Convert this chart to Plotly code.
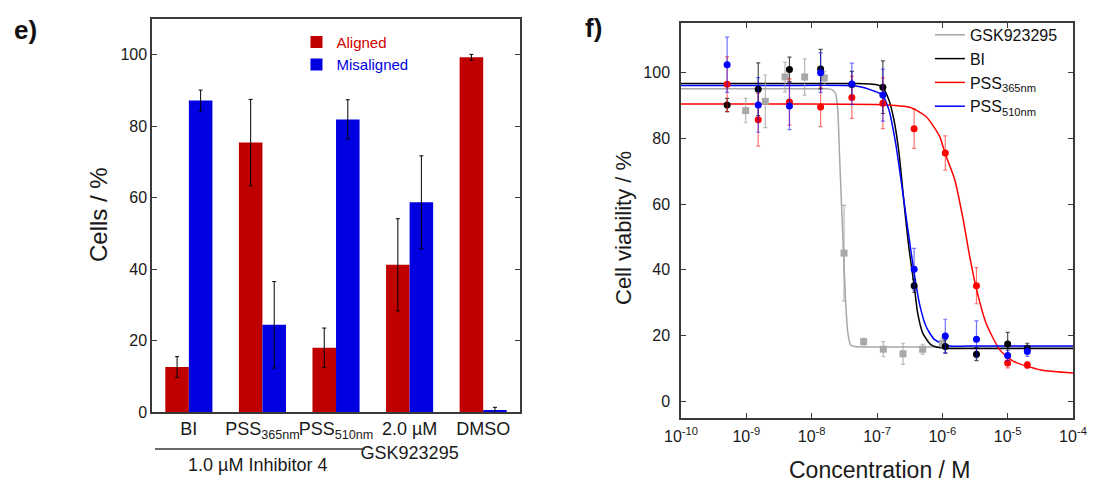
import plotly.graph_objects as go

FONT = "Arial, Liberation Sans, sans-serif"

# ---------------- panel e) data ----------------
categories = ["BI", "PSS<sub>365nm</sub>", "PSS<sub>510nm</sub>", "2.0 µM<br>GSK923295", "DMSO"]
aligned = [12.6, 75.4, 18.0, 41.2, 99.3]
aligned_err = [2.9, 12.1, 5.5, 12.9, 0.8]
misaligned = [87.2, 24.4, 81.9, 58.7, 0.5]
misaligned_err = [2.9, 12.1, 5.5, 13.0, 0.8]

# ---------------- panel f) data ----------------
conc_inhib = [5.08e-10, 1.52e-9, 4.57e-9, 1.37e-8, 4.12e-8, 1.23e-7, 3.7e-7, 1.11e-6, 3.33e-6, 1e-5, 2e-5]
via_bi = [90.1, 94.9, 100.9, 101.0, 96.3, 95.5, 35.2, 16.7, 14.4, 17.5, 16.2]
err_bi = [2.0, 8.0, 3.7, 6.0, 4.0, 8.0, 2.0, 2.0, 2.0, 3.5, 1.5]
via_365 = [96.4, 85.6, 91.0, 89.5, 92.4, 90.6, 82.9, 75.5, 35.2, 11.7, 11.1]
err_365 = [8.3, 8.0, 7.0, 6.0, 6.4, 7.7, 6.0, 5.2, 5.5, 1.5, 1.0]
via_510 = [102.3, 90.1, 89.8, 99.9, 96.5, 93.1, 40.2, 19.9, 18.9, 14.0, 15.2]
err_510 = [8.4, 8.3, 7.2, 6.0, 6.3, 7.9, 6.3, 5.1, 5.6, 1.5, 1.5]

conc_gsk = [9.77e-10, 1.95e-9, 3.91e-9, 7.81e-9, 1.56e-8, 3.13e-8, 6.25e-8, 1.25e-7, 2.5e-7, 5e-7, 1e-6]
via_gsk = [88.4, 91.2, 98.6, 98.6, 98.3, 45.1, 18.2, 15.9, 14.5, 15.9, 17.7]
err_gsk = [3.7, 8.0, 4.5, 5.5, 2.0, 14.5, 1.0, 2.3, 3.2, 1.5, 1.5]

# fitted curves (log10 concentration, viability)
fit_gsk_logc = [-10, -8.5, -7.8, -7.705, -7.637, -7.601, -7.575, -7.544, -7.513, -7.482, -7.446, -7.404, -7.342, -6.5, -4]
fit_gsk_via = [95.0, 95.0, 95.0, 94.9, 93.7, 88.7, 75.5, 60.3, 45.3, 30.9, 20.8, 17.2, 16.7, 16.6, 16.6]
fit_bi_logc = [-10, -8.5, -7.3, -7.026, -6.922, -6.819, -6.741, -6.663, -6.611, -6.560, -6.508, -6.430, -6.378, -6.300, -6.171, -5.990, -5.5, -4]
fit_bi_via = [96.6, 96.6, 96.6, 96.3, 95.6, 91.7, 85.6, 75.5, 65.3, 55.2, 46.1, 35.0, 26.9, 20.8, 17.2, 16.2, 16.1, 16.1]
fit_365_logc = [-10, -8.5, -7.5, -7.0, -6.5, -6.25, -6.04, -5.96, -5.81, -5.68, -5.59, -5.49, -5.33, -5.12, -4.91, -4.49, -4.0]
fit_365_via = [90.4, 90.4, 90.3, 90.2, 89.4, 86.6, 80.5, 75.5, 67.4, 55.2, 45.0, 35.2, 23.8, 15.7, 12.2, 9.6, 8.7]
fit_510_logc = [-10, -8.5, -7.3, -7.026, -6.922, -6.819, -6.715, -6.611, -6.534, -6.440, -6.352, -6.249, -6.119, -5.886, -5.5, -4]
fit_510_via = [96.0, 96.0, 95.8, 94.2, 93.2, 88.7, 78.5, 64.3, 53.2, 40.2, 29.9, 22.8, 18.8, 16.9, 16.9, 16.9]

RED_BAR = "#c00000"
BLUE_BAR = "#0000e0"

fig = go.Figure()

# ---- bars ----
fig.add_trace(go.Bar(
    x=categories, y=aligned, name='<span style="color:#d00000">Aligned</span>',
    marker=dict(color=RED_BAR, line=dict(width=0)),
    error_y=dict(type="data", array=aligned_err, color="black", thickness=1, width=2),
    xaxis="x", yaxis="y", legend="legend"))
fig.add_trace(go.Bar(
    x=categories, y=misaligned, name='<span style="color:#0000e0">Misaligned</span>',
    marker=dict(color=BLUE_BAR, line=dict(width=0)),
    error_y=dict(type="data", array=misaligned_err, color="black", thickness=1, width=2),
    xaxis="x", yaxis="y", legend="legend"))

# ---- curves + points ----
series = [
    ("GSK923295", conc_gsk, via_gsk, err_gsk, fit_gsk_logc, fit_gsk_via, "#a8a8a8", "rgba(160,160,160,0.75)", "square"),
    ("BI", conc_inhib, via_bi, err_bi, fit_bi_logc, fit_bi_via, "#000000", "rgba(0,0,0,0.7)", "circle"),
    ("PSS<sub>365nm</sub>", conc_inhib, via_365, err_365, fit_365_logc, fit_365_via, "#ff0000", "rgba(255,0,0,0.55)", "circle"),
    ("PSS<sub>510nm</sub>", conc_inhib, via_510, err_510, fit_510_logc, fit_510_via, "#0000ff", "rgba(0,0,255,0.55)", "circle"),
]
for name, cx, cy, ce, flc, fv, col, ecol, sym in series:
    fig.add_trace(go.Scatter(
        x=[10 ** v for v in flc], y=fv, mode="lines", name=name,
        line=dict(color=col, width=1.5, shape="spline", smoothing=0.6),
        xaxis="x2", yaxis="y2", legend="legend2"))
for name, cx, cy, ce, flc, fv, col, ecol, sym in series:
    fig.add_trace(go.Scatter(
        x=cx, y=cy, mode="markers", name=name, showlegend=False,
        marker=dict(color=col, size=7, symbol=sym, line=dict(width=0)),
        error_y=dict(type="data", array=ce, color=ecol, thickness=1.2, width=2),
        xaxis="x2", yaxis="y2"))

axis_line = dict(showline=True, linecolor="#3a3a3a", linewidth=1.5,
                 showgrid=False, zeroline=False, automargin=False)

fig.update_layout(
    width=1094, height=484,
    margin=dict(l=0, r=0, t=0, b=0),
    paper_bgcolor="white", plot_bgcolor="white",
    font=dict(family=FONT, color="#1a1a1a"),
    barmode="group", bargap=0.36, bargroupgap=0,
    xaxis=dict(domain=[0.139, 0.4753], range=[-0.5, 4.5], type="category",
               ticks="", tickangle=0, tickfont=dict(size=18), anchor="y", mirror=True, **axis_line),
    yaxis=dict(domain=[0.1488, 0.9607], range=[0, 110], tickvals=[0, 20, 40, 60, 80, 100],
               ticks="inside", ticklen=5, tickcolor="#3a3a3a", tickfont=dict(size=16),
               anchor="x", mirror="ticks", **axis_line),
    xaxis2=dict(domain=[0.6225, 0.9808], type="log", range=[-10, -4],
                tickvals=[1e-10, 1e-9, 1e-8, 1e-7, 1e-6, 1e-5, 1e-4],
                ticktext=["10<sup>-10</sup>", "10<sup>-9</sup>", "10<sup>-8</sup>", "10<sup>-7</sup>",
                          "10<sup>-6</sup>", "10<sup>-5</sup>", "10<sup>-4</sup>"],
                ticks="inside", ticklen=5, tickcolor="#3a3a3a", tickfont=dict(size=16), tickangle=0,
                ticklabelstandoff=3,
                anchor="y2", mirror="ticks", **axis_line),
    yaxis2=dict(domain=[0.1364, 0.9525], range=[-5, 115], tickvals=[0, 20, 40, 60, 80, 100],
                ticks="inside", ticklen=5, tickcolor="#3a3a3a", tickfont=dict(size=16),
                ticklabelstandoff=6,
                anchor="x2", mirror="ticks", **axis_line),
    legend=dict(x=0.271, y=0.947, xanchor="left", yanchor="top", bgcolor="rgba(0,0,0,0)",
                font=dict(size=15), itemwidth=30, tracegroupgap=0),
    legend2=dict(x=0.850, y=0.963, xanchor="left", yanchor="top", bgcolor="rgba(0,0,0,0)",
                 font=dict(size=16, color="#111"), itemwidth=30),
    showlegend=True,
)

fig.add_shape(type="line", xref="paper", yref="paper",
              x0=155 / 1094, x1=365 / 1094, y0=1 - 449 / 484, y1=1 - 449 / 484,
              line=dict(color="#3a3a3a", width=1.5))

ann = [
    dict(text="<b>e)</b>", x=25 / 1094, y=1 - 30 / 484, font=dict(size=26, color="#111")),
    dict(text="<b>f)</b>", x=593 / 1094, y=1 - 28 / 484, font=dict(size=26, color="#111")),
    dict(text="Cells / %", x=98 / 1094, y=1 - 215 / 484, textangle=-90, font=dict(size=24)),
    dict(text="Cell viability / %", x=623 / 1094, y=1 - 228 / 484, textangle=-90, font=dict(size=22)),
    dict(text="Concentration / M", x=880 / 1094, y=1 - 470 / 484, font=dict(size=23)),
    dict(text="1.0 µM Inhibitor 4", x=257 / 1094, y=1 - 465 / 484, font=dict(size=18)),
]
for a in ann:
    fig.add_annotation(xref="paper", yref="paper", showarrow=False,
                       xanchor="center", yanchor="middle", **a)

fig.write_html("out.html")
